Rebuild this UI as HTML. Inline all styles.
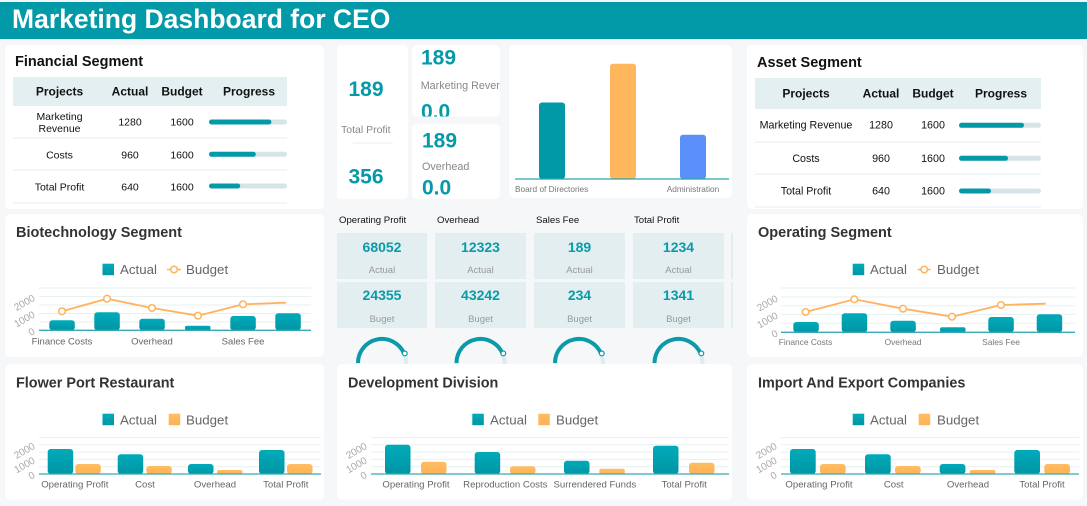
<!DOCTYPE html>
<html><head><meta charset="utf-8">
<style>
html,body{margin:0;padding:0;background:#f6f7f9;}
svg{display:block;font-family:"Liberation Sans",Arial,sans-serif;}
</style></head><body>
<svg width="1087" height="506" viewBox="0 0 1087 506" xmlns="http://www.w3.org/2000/svg">
<defs>
<linearGradient id="tg" x1="0" y1="0" x2="0" y2="1"><stop offset="0" stop-color="#00abba"/><stop offset="1" stop-color="#0095a4"/></linearGradient>
<linearGradient id="og" x1="0" y1="0" x2="0" y2="1"><stop offset="0" stop-color="#ffbd63"/><stop offset="1" stop-color="#ffb254"/></linearGradient>
<clipPath id="c2"><rect x="412" y="45" width="88" height="71.5" rx="5"/></clipPath>
</defs>
<rect width="1087" height="506" fill="#f6f7f9"/>
<rect y="2" width="1087" height="37" fill="#0299a9"/>
<text x="12" y="28" font-size="26.5" font-weight="bold" fill="#fff">Marketing Dashboard for CEO</text>

<!-- Financial Segment -->
<rect x="5" y="45" width="319" height="164" rx="5" fill="#fff"/>
<text x="15" y="66" font-size="14.5" font-weight="bold" fill="#111">Financial Segment</text>
<rect x="13" y="77" width="274" height="29" fill="#e3eff1"/>
<g font-size="12" font-weight="bold" fill="#111" text-anchor="middle">
<text x="59.5" y="95.5">Projects</text><text x="130" y="95.5">Actual</text><text x="182" y="95.5">Budget</text><text x="249" y="95.5">Progress</text>
</g>
<g stroke="#e3eff1" stroke-width="1"><line x1="13" x2="287" y1="138" y2="138"/><line x1="13" x2="287" y1="170" y2="170"/><line x1="13" x2="287" y1="203" y2="203"/></g>
<g font-size="10.5" fill="#111" text-anchor="middle">
<text x="59.5" y="120">Marketing</text><text x="59.5" y="132">Revenue</text>
<text x="130" y="125.7">1280</text><text x="182" y="125.7">1600</text>
<text x="59.5" y="158.7">Costs</text><text x="130" y="158.7">960</text><text x="182" y="158.7">1600</text>
<text x="59.5" y="190.7">Total Profit</text><text x="130" y="190.7">640</text><text x="182" y="190.7">1600</text>
</g>
<g>
<rect x="209" y="119.5" width="78" height="5" rx="2.5" fill="#d7e4e7"/><rect x="209" y="119.5" width="62.4" height="5" rx="2.5" fill="#0499a8"/>
<rect x="209" y="151.8" width="78" height="5" rx="2.5" fill="#d7e4e7"/><rect x="209" y="151.8" width="46.8" height="5" rx="2.5" fill="#0499a8"/>
<rect x="209" y="183.5" width="78" height="5" rx="2.5" fill="#d7e4e7"/><rect x="209" y="183.5" width="31.2" height="5" rx="2.5" fill="#0499a8"/>
</g>

<!-- Asset Segment -->
<rect x="747" y="45" width="336" height="164" rx="5" fill="#fff"/>
<text x="757" y="67" font-size="14.5" font-weight="bold" fill="#111">Asset Segment</text>
<rect x="755" y="78" width="286" height="31" fill="#e3eff1"/>
<g font-size="12" font-weight="bold" fill="#111" text-anchor="middle">
<text x="806" y="97.5">Projects</text><text x="881" y="97.5">Actual</text><text x="933" y="97.5">Budget</text><text x="1001" y="97.5">Progress</text>
</g>
<g stroke="#e3eff1" stroke-width="1"><line x1="755" x2="1041" y1="142" y2="142"/><line x1="755" x2="1041" y1="174" y2="174"/><line x1="755" x2="1041" y1="207" y2="207"/></g>
<g font-size="10.7" fill="#111" text-anchor="middle">
<text x="806" y="128.7">Marketing Revenue</text><text x="881" y="128.7">1280</text><text x="933" y="128.7">1600</text>
<text x="806" y="162">Costs</text><text x="881" y="162">960</text><text x="933" y="162">1600</text>
<text x="806" y="194.7">Total Profit</text><text x="881" y="194.7">640</text><text x="933" y="194.7">1600</text>
</g>
<g>
<rect x="959" y="122.8" width="82" height="5" rx="2.5" fill="#d7e4e7"/><rect x="959" y="122.8" width="65" height="5" rx="2.5" fill="#0499a8"/>
<rect x="959" y="155.8" width="82" height="5" rx="2.5" fill="#d7e4e7"/><rect x="959" y="155.8" width="49" height="5" rx="2.5" fill="#0499a8"/>
<rect x="959" y="188.5" width="82" height="5" rx="2.5" fill="#d7e4e7"/><rect x="959" y="188.5" width="32" height="5" rx="2.5" fill="#0499a8"/>
</g>

<!-- KPI cards -->
<rect x="337" y="45" width="71" height="154" rx="5" fill="#fff"/>
<text x="366" y="96" font-size="21" font-weight="bold" fill="#0599a9" text-anchor="middle">189</text>
<text x="341" y="133" font-size="10.5" fill="#888">Total Profit</text>
<line x1="353" x2="393" y1="143" y2="143" stroke="#e8f0f2"/>
<text x="366" y="183.3" font-size="21" font-weight="bold" fill="#0599a9" text-anchor="middle">356</text>

<rect x="412" y="45" width="88" height="71.5" rx="5" fill="#fff"/>
<g clip-path="url(#c2)">
<text x="421" y="64.3" font-size="21" font-weight="bold" fill="#0599a9">189</text>
<text x="420.7" y="89" font-size="10.8" fill="#888">Marketing Revenue</text>
<text x="421" y="118.5" font-size="21" font-weight="bold" fill="#0599a9">0.0</text>
</g>
<rect x="412" y="124" width="88" height="75" rx="5" fill="#fff"/>
<text x="422" y="147.7" font-size="21" font-weight="bold" fill="#0599a9">189</text>
<text x="422" y="170" font-size="10.8" fill="#888">Overhead</text>
<text x="422" y="194.3" font-size="21" font-weight="bold" fill="#0599a9">0.0</text>

<!-- top bar chart -->
<rect x="509" y="45" width="223" height="153" rx="5" fill="#fff"/>
<rect x="539" y="102.5" width="26" height="76.5" rx="3" fill="#0099a8"/>
<rect x="610" y="63.7" width="26" height="115.3" rx="3" fill="#ffb65c"/>
<rect x="680" y="134.7" width="26" height="44.3" rx="3" fill="#5b8ff9"/>
<line x1="515" x2="729" y1="179" y2="179" stroke="#2aa5b2" stroke-width="1.3"/>
<text x="515" y="192" font-size="8.3" fill="#777">Board of Directories</text>
<text x="719.3" y="192" font-size="8.3" fill="#777" text-anchor="end">Administration</text>

<!-- middle tiles -->
<g font-size="9.6" fill="#111">
<text x="339" y="223">Operating Profit</text><text x="437" y="223">Overhead</text><text x="536" y="223">Sales Fee</text><text x="634" y="223">Total Profit</text>
</g>
<g fill="#e2eef0">
<rect x="337" y="233" width="90" height="46"/><rect x="435" y="233" width="91" height="46"/><rect x="534" y="233" width="91" height="46"/><rect x="633" y="233" width="91" height="46"/><rect x="731" y="233" width="2" height="46"/>
<rect x="337" y="282" width="90" height="46"/><rect x="435" y="282" width="91" height="46"/><rect x="534" y="282" width="91" height="46"/><rect x="633" y="282" width="91" height="46"/><rect x="731" y="282" width="2" height="46"/>
</g>
<g font-size="14" font-weight="bold" fill="#0a9aa9" text-anchor="middle">
<text x="382" y="252">68052</text><text x="480.5" y="252">12323</text><text x="579.5" y="252">189</text><text x="678.5" y="252">1234</text>
<text x="382" y="300">24355</text><text x="480.5" y="300">43242</text><text x="579.5" y="300">234</text><text x="678.5" y="300">1341</text>
</g>
<g font-size="9.5" fill="#999" text-anchor="middle">
<text x="382" y="273">Actual</text><text x="480.5" y="273">Actual</text><text x="579.5" y="273">Actual</text><text x="678.5" y="273">Actual</text>
<text x="382" y="322">Buget</text><text x="480.5" y="322">Buget</text><text x="579.5" y="322">Buget</text><text x="678.5" y="322">Buget</text>
</g>
<!-- gauges -->
<g fill="none" stroke-width="4">
<circle cx="382" cy="363" r="24" stroke="#dcecef"/><circle cx="480.5" cy="363" r="24" stroke="#dcecef"/><circle cx="579" cy="363" r="24" stroke="#dcecef"/><circle cx="678.5" cy="363" r="24" stroke="#dcecef"/>
<path d="M358 363 A24 24 0 0 1 404.1 353.6" stroke="#0a9aa9"/>
<path d="M456.5 363 A24 24 0 0 1 502.6 353.6" stroke="#0a9aa9"/>
<path d="M555 363 A24 24 0 0 1 601.1 353.6" stroke="#0a9aa9"/>
<path d="M654.5 363 A24 24 0 0 1 700.6 353.6" stroke="#0a9aa9"/>
</g>
<g fill="#fff" stroke="#0a9aa9" stroke-width="1.2">
<circle cx="404.8" cy="353.4" r="2.4"/><circle cx="503.3" cy="353.4" r="2.4"/><circle cx="601.8" cy="353.4" r="2.4"/><circle cx="701.3" cy="353.4" r="2.4"/>
</g>

<!-- Biotechnology Segment -->
<rect x="5" y="214" width="319" height="143" rx="5" fill="#fff"/>
<text x="16" y="237" font-size="14.5" font-weight="bold" fill="#333">Biotechnology Segment</text>
<rect x="102.5" y="263.7" width="11.5" height="11.5" fill="url(#tg)"/>
<text x="120" y="274" font-size="13.3" fill="#666">Actual</text>
<line x1="167" x2="181" y1="269.5" y2="269.5" stroke="#ffb35c" stroke-width="1.5"/>
<circle cx="174" cy="269.5" r="3.3" fill="#fff" stroke="#ffb35c" stroke-width="1.5"/>
<text x="186" y="274" font-size="13.3" fill="#666">Budget</text>
<g stroke="#e6f1f2"><line x1="39" x2="311" y1="288" y2="288"/><line x1="39" x2="311" y1="296.5" y2="296.5"/><line x1="39" x2="311" y1="305" y2="305"/><line x1="39" x2="311" y1="313.5" y2="313.5"/><line x1="39" x2="311" y1="322" y2="322"/></g>
<g font-size="10" fill="#aaa" text-anchor="end">
<text transform="translate(34,297) rotate(-30)" dy="3.5">2000</text>
<text transform="translate(34,313.5) rotate(-30)" dy="3.5">1000</text>
<text transform="translate(34,330.3) rotate(-30)" dy="3.5">0</text>
</g>
<g fill="url(#tg)">
<rect x="49.3" y="320.3" width="25.5" height="10" rx="3"/><rect x="94.3" y="312.3" width="25.5" height="18" rx="3"/><rect x="139.3" y="318.7" width="25.5" height="11.6" rx="3"/><rect x="185" y="325.7" width="25.5" height="4.6" rx="2"/><rect x="230.3" y="316" width="25.5" height="14.3" rx="3"/><rect x="275.3" y="313.3" width="25.5" height="17" rx="3"/>
</g>
<line x1="39" x2="311" y1="330.3" y2="330.3" stroke="#3aa8b4" stroke-width="1.3"/>
<polyline points="62,311.3 107,298.7 152,308 198,315.7 243,304.3 286,302.7" fill="none" stroke="#ffb35c" stroke-width="1.8"/>
<g fill="#fff" stroke="#ffb35c" stroke-width="1.5"><circle cx="62" cy="311.3" r="3.3"/><circle cx="107" cy="298.7" r="3.3"/><circle cx="152" cy="308" r="3.3"/><circle cx="198" cy="315.7" r="3.3"/><circle cx="243" cy="304.3" r="3.3"/></g>
<g font-size="9.5" fill="#666" text-anchor="middle"><text x="62" y="344.3">Finance Costs</text><text x="152" y="344.3">Overhead</text><text x="243" y="344.3">Sales Fee</text></g>

<!-- Operating Segment -->
<rect x="747" y="214" width="336" height="143" rx="5" fill="#fff"/>
<text x="758" y="237" font-size="14.5" font-weight="bold" fill="#333">Operating Segment</text>
<rect x="852.7" y="263.7" width="11.5" height="11.5" fill="url(#tg)"/>
<text x="870" y="274" font-size="13.3" fill="#666">Actual</text>
<line x1="917.7" x2="930.7" y1="269.5" y2="269.5" stroke="#ffb35c" stroke-width="1.5"/>
<circle cx="924.2" cy="269.5" r="3.3" fill="#fff" stroke="#ffb35c" stroke-width="1.5"/>
<text x="937" y="274" font-size="13.3" fill="#666">Budget</text>
<g stroke="#e6f1f2"><line x1="781" x2="1075" y1="288" y2="288"/><line x1="781" x2="1075" y1="297" y2="297"/><line x1="781" x2="1075" y1="305.7" y2="305.7"/><line x1="781" x2="1075" y1="314.5" y2="314.5"/><line x1="781" x2="1075" y1="323.3" y2="323.3"/></g>
<g font-size="10" fill="#aaa" text-anchor="end">
<text transform="translate(777,297.5) rotate(-30)" dy="3.5">2000</text>
<text transform="translate(777,314.5) rotate(-30)" dy="3.5">1000</text>
<text transform="translate(777,332.3) rotate(-30)" dy="3.5">0</text>
</g>
<g fill="url(#tg)">
<rect x="793.3" y="322" width="25.5" height="10.3" rx="3"/><rect x="841.7" y="313.3" width="25.5" height="19" rx="3"/><rect x="890.3" y="320.7" width="25.5" height="11.6" rx="3"/><rect x="940" y="327.3" width="25.5" height="5" rx="2"/><rect x="988.3" y="317" width="25.5" height="15.3" rx="3"/><rect x="1036.7" y="314.3" width="25.5" height="18" rx="3"/>
</g>
<line x1="781" x2="1075" y1="332.3" y2="332.3" stroke="#3aa8b4" stroke-width="1.3"/>
<polyline points="805.7,312 854.3,299.3 903,308.7 952,316.7 1001,305 1045.7,303.7" fill="none" stroke="#ffb35c" stroke-width="1.8"/>
<g fill="#fff" stroke="#ffb35c" stroke-width="1.5"><circle cx="805.7" cy="312" r="3.3"/><circle cx="854.3" cy="299.3" r="3.3"/><circle cx="903" cy="308.7" r="3.3"/><circle cx="952" cy="316.7" r="3.3"/><circle cx="1001" cy="305" r="3.3"/></g>
<g font-size="8.4" fill="#777" text-anchor="middle"><text x="805.5" y="345">Finance Costs</text><text x="903" y="345">Overhead</text><text x="1001" y="345">Sales Fee</text></g>

<!-- Flower Port Restaurant -->
<rect x="5" y="364" width="319" height="136" rx="5" fill="#fff"/>
<text x="16" y="387.3" font-size="14.4" font-weight="bold" fill="#333">Flower Port Restaurant</text>
<rect x="102.5" y="413.7" width="11.5" height="11.5" fill="url(#tg)"/>
<text x="120" y="424.5" font-size="13.3" fill="#666">Actual</text>
<rect x="168.7" y="413.7" width="11.5" height="11.5" fill="url(#og)"/>
<text x="186" y="424.5" font-size="13.3" fill="#666">Budget</text>
<g stroke="#e6f1f2"><line x1="39" x2="321" y1="437.5" y2="437.5"/><line x1="39" x2="321" y1="444.8" y2="444.8"/><line x1="39" x2="321" y1="452.1" y2="452.1"/><line x1="39" x2="321" y1="459.4" y2="459.4"/><line x1="39" x2="321" y1="466.7" y2="466.7"/></g>
<g font-size="10" fill="#aaa" text-anchor="end">
<text transform="translate(34,445) rotate(-30)" dy="3.5">2000</text>
<text transform="translate(34,459.4) rotate(-30)" dy="3.5">1000</text>
<text transform="translate(34,474) rotate(-30)" dy="3.5">0</text>
</g>
<g fill="url(#tg)"><rect x="47.7" y="449" width="25.5" height="25" rx="3"/><rect x="117.7" y="454.3" width="25.5" height="19.7" rx="3"/><rect x="188" y="464" width="25.5" height="10" rx="3"/><rect x="259" y="450" width="25.5" height="24" rx="3"/></g>
<g fill="url(#og)"><rect x="75.3" y="464" width="25.5" height="10" rx="3"/><rect x="146.3" y="466" width="25.5" height="8" rx="3"/><rect x="217" y="470" width="25.5" height="4" rx="2"/><rect x="287" y="464" width="25.5" height="10" rx="3"/></g>
<line x1="39" x2="321" y1="474" y2="474" stroke="#3aa8b4" stroke-width="1.3"/>
<g font-size="9.6" fill="#666" text-anchor="middle"><text x="74.8" y="487.7">Operating Profit</text><text x="145" y="487.7">Cost</text><text x="215" y="487.7">Overhead</text><text x="285.8" y="487.7">Total Profit</text></g>

<!-- Development Division -->
<rect x="337" y="364" width="395" height="136" rx="5" fill="#fff"/>
<text x="348" y="387.3" font-size="14.4" font-weight="bold" fill="#333">Development Division</text>
<rect x="472.3" y="413.7" width="11.5" height="11.5" fill="url(#tg)"/>
<text x="490" y="424.5" font-size="13.3" fill="#666">Actual</text>
<rect x="538.3" y="413.7" width="11.5" height="11.5" fill="url(#og)"/>
<text x="556" y="424.5" font-size="13.3" fill="#666">Budget</text>
<g stroke="#e6f1f2"><line x1="371" x2="729" y1="437.5" y2="437.5"/><line x1="371" x2="729" y1="444.8" y2="444.8"/><line x1="371" x2="729" y1="452.1" y2="452.1"/><line x1="371" x2="729" y1="459.4" y2="459.4"/><line x1="371" x2="729" y1="466.7" y2="466.7"/></g>
<g font-size="10" fill="#aaa" text-anchor="end">
<text transform="translate(366,445) rotate(-30)" dy="3.5">2000</text>
<text transform="translate(366,459.4) rotate(-30)" dy="3.5">1000</text>
<text transform="translate(366,474) rotate(-30)" dy="3.5">0</text>
</g>
<g fill="url(#tg)"><rect x="385" y="444.7" width="25.5" height="29.3" rx="3"/><rect x="474.7" y="452" width="25.5" height="22" rx="3"/><rect x="564" y="460.7" width="25.5" height="13.3" rx="3"/><rect x="653" y="445.7" width="25.5" height="28.3" rx="3"/></g>
<g fill="url(#og)"><rect x="421" y="461.7" width="25.5" height="12.3" rx="3"/><rect x="510" y="466.3" width="25.5" height="7.7" rx="3"/><rect x="599.3" y="468.7" width="25.5" height="5.3" rx="2"/><rect x="689" y="462.7" width="25.5" height="11.3" rx="3"/></g>
<line x1="371" x2="729" y1="474" y2="474" stroke="#3aa8b4" stroke-width="1.3"/>
<g font-size="9.6" fill="#666" text-anchor="middle"><text x="416" y="487.7">Operating Profit</text><text x="505.3" y="487.7">Reproduction Costs</text><text x="594.8" y="487.7">Surrendered Funds</text><text x="684.2" y="487.7">Total Profit</text></g>

<!-- Import And Export Companies -->
<rect x="747" y="364" width="336" height="136" rx="5" fill="#fff"/>
<text x="758" y="387.3" font-size="14.4" font-weight="bold" fill="#333">Import And Export Companies</text>
<rect x="852.7" y="413.7" width="11.5" height="11.5" fill="url(#tg)"/>
<text x="870" y="424.5" font-size="13.3" fill="#666">Actual</text>
<rect x="918.7" y="413.7" width="11.5" height="11.5" fill="url(#og)"/>
<text x="937" y="424.5" font-size="13.3" fill="#666">Budget</text>
<g stroke="#e6f1f2"><line x1="781" x2="1079" y1="437.5" y2="437.5"/><line x1="781" x2="1079" y1="444.8" y2="444.8"/><line x1="781" x2="1079" y1="452.1" y2="452.1"/><line x1="781" x2="1079" y1="459.4" y2="459.4"/><line x1="781" x2="1079" y1="466.7" y2="466.7"/></g>
<g font-size="10" fill="#aaa" text-anchor="end">
<text transform="translate(776,445) rotate(-30)" dy="3.5">2000</text>
<text transform="translate(776,459.4) rotate(-30)" dy="3.5">1000</text>
<text transform="translate(776,474) rotate(-30)" dy="3.5">0</text>
</g>
<g fill="url(#tg)"><rect x="790" y="449" width="25.7" height="25" rx="3"/><rect x="865" y="454.3" width="25.7" height="19.7" rx="3"/><rect x="939.7" y="464" width="25.7" height="10" rx="3"/><rect x="1014.3" y="450" width="25.7" height="24" rx="3"/></g>
<g fill="url(#og)"><rect x="820" y="464" width="25.7" height="10" rx="3"/><rect x="895" y="466" width="25.7" height="8" rx="3"/><rect x="969.7" y="470" width="25.7" height="4" rx="2"/><rect x="1044.3" y="464" width="25.7" height="10" rx="3"/></g>
<line x1="781" x2="1079" y1="474" y2="474" stroke="#3aa8b4" stroke-width="1.3"/>
<g font-size="9.6" fill="#666" text-anchor="middle"><text x="819" y="487.7">Operating Profit</text><text x="893.7" y="487.7">Cost</text><text x="968" y="487.7">Overhead</text><text x="1042" y="487.7">Total Profit</text></g>
</svg>
</body></html>
